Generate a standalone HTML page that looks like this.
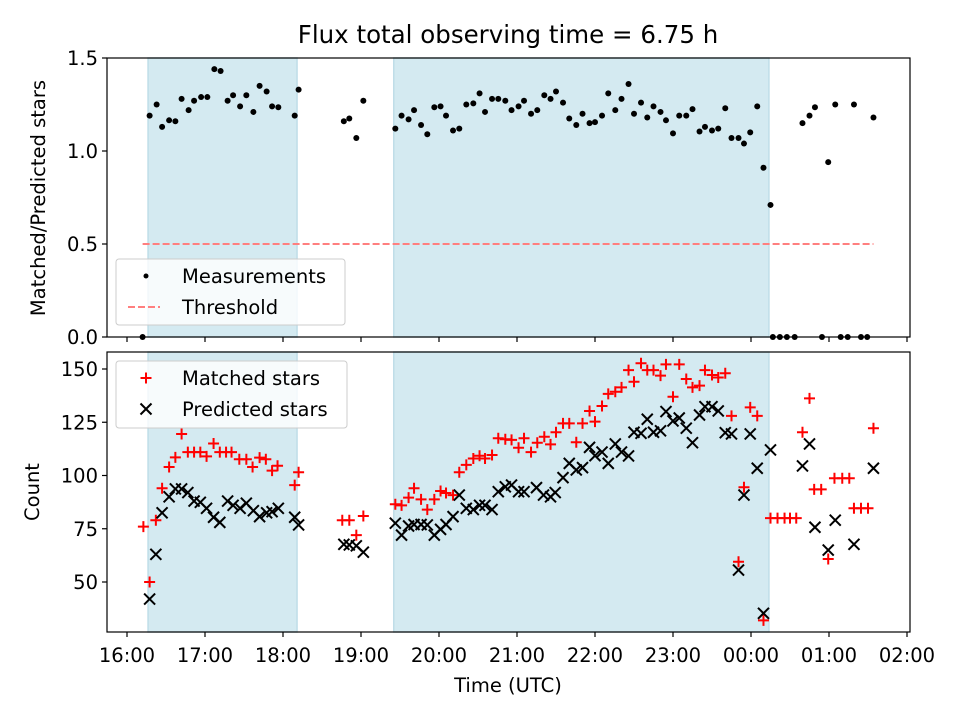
<!DOCTYPE html>
<html><head><meta charset="utf-8"><style>
body{margin:0;background:#fff;}
svg{display:block;font-family:"DejaVu Sans","Liberation Sans",sans-serif;}
</style></head><body>
<svg id="chart" width="960" height="720" viewBox="0 0 960 720"></svg>
<script>
// ---- data (hours after 16:00 UTC) ----
const tickLabels = ["16:00","17:00","18:00","19:00","20:00","21:00","22:00","23:00","00:00","01:00","02:00"];
const topTicks = [0, 0.5, 1.0, 1.5];
const botTicks = [50, 75, 100, 125, 150];
const spans = [[0.27, 2.18], [3.42, 8.23]];
const threshold = 0.5;
const thresholdRange = [0.20, 9.57];

const ratioT = [0.20,0.29,0.38,0.45,0.54,0.62,0.70,0.79,0.86,0.95,1.03,1.12,1.20,1.29,1.36,1.45,1.53,1.62,1.70,1.79,1.86,1.94,2.15,2.20,
 2.78,2.85,2.94,3.03,
 3.44,3.52,3.61,3.68,3.77,3.85,3.94,4.02,4.09,4.18,4.26,4.35,4.44,4.52,4.59,4.68,4.76,4.85,
 4.93,5.02,5.09,5.18,5.26,5.35,5.43,5.50,5.59,5.67,5.76,5.84,5.93,6.00,6.09,6.17,6.26,6.34,6.43,6.50,6.59,6.67,6.75,6.84,6.91,7.00,7.08,7.17,7.25,7.34,7.41,7.50,7.58,7.67,7.75,7.84,7.91,7.99,8.08,8.16,8.25,
 8.28,8.37,8.46,8.56,8.66,8.75,8.82,8.91,8.99,9.08,9.15,9.24,9.32,9.41,9.49,9.57];
const ratioV = [0,1.19,1.25,1.13,1.165,1.16,1.28,1.22,1.27,1.29,1.29,1.44,1.43,1.27,1.30,1.24,1.30,1.21,1.35,1.32,1.24,1.235,1.19,1.33,
 1.16,1.175,1.07,1.27,
 1.12,1.19,1.17,1.22,1.14,1.09,1.235,1.24,1.19,1.11,1.12,1.25,1.256,1.31,1.21,1.28,1.28,1.27,
 1.22,1.24,1.27,1.20,1.22,1.30,1.28,1.32,1.26,1.175,1.14,1.20,1.15,1.155,1.19,1.31,1.22,1.28,1.36,1.20,1.26,1.18,1.24,1.21,1.165,1.095,1.19,1.19,1.225,1.105,1.13,1.11,1.12,1.23,1.07,1.07,1.04,1.10,1.24,0.91,0.71,
 0,0,0,0,1.15,1.19,1.235,0,0.94,1.25,0,0,1.25,0,0,1.18];

const matchedT = [0.21,0.29,0.37,0.45,0.54,0.62,0.70,0.78,0.86,0.94,1.02,1.11,1.19,1.27,1.34,1.44,1.53,1.61,1.70,1.78,1.86,1.93,2.15,2.20,
 2.76,2.85,2.94,3.03,
 3.44,3.52,3.61,3.68,3.77,3.85,3.94,4.02,4.09,4.18,4.26,4.35,4.44,4.52,4.59,4.68,4.76,4.85,
 4.93,5.02,5.09,5.18,5.26,5.35,5.43,5.50,5.59,5.67,5.76,5.84,5.93,6.00,6.09,6.17,6.26,6.34,6.43,6.50,6.59,6.67,6.75,6.84,6.91,7.00,7.08,7.17,7.25,7.34,7.41,7.50,7.58,7.67,7.75,7.84,7.91,7.99,8.08,8.16,
 8.25,8.34,8.43,8.50,8.58,8.66,8.75,8.81,8.90,8.99,9.07,9.17,9.26,9.32,9.41,9.50,9.57];
const matchedV = [76,50,79,94,104,108.5,119.5,111,111,111,109,115,111,111,111,107.6,107.6,104,108.4,107.6,102.3,104.6,95.5,101.5,
 79,79,72,81,
 86.5,86,89.6,94,88.8,84,88.8,92.7,91.8,90.8,101.5,105,108,109.3,108,109.6,117.5,117,
 116.7,113,117.5,111,115.4,118.2,114.6,120.3,124.5,124.5,115.6,124.5,130.3,125.3,132.6,138.3,139.3,141.4,149.5,144,152.7,149.5,149.5,146.9,152.2,137,152.2,145.3,141.4,142.2,149.5,147.2,146,148,128,59.5,94.5,132,128,32,
 80,80,80,80,80,120.3,136.2,93.5,93.5,60.8,98.7,98.7,98.7,84.6,84.6,84.6,122.2];

const predictedT = [0.29,0.37,0.45,0.54,0.62,0.70,0.78,0.86,0.94,1.02,1.11,1.19,1.29,1.36,1.45,1.53,1.62,1.70,1.79,1.86,1.94,2.15,2.20,
 2.78,2.85,2.94,3.03,
 3.44,3.52,3.61,3.68,3.77,3.85,3.94,4.02,4.09,4.18,4.26,4.35,4.44,4.52,4.59,4.68,4.76,4.85,
 4.93,5.02,5.09,5.25,5.34,5.43,5.49,5.59,5.67,5.76,5.84,5.93,6.00,6.09,6.17,6.26,6.34,6.43,6.50,6.59,6.67,6.75,6.84,6.91,7.00,7.08,7.17,7.25,7.34,7.41,7.50,7.58,7.67,7.75,7.84,7.91,7.99,8.08,8.16,8.25,
 8.66,8.75,8.82,8.99,9.08,9.32,9.57];
const predictedV = [42,63,82.5,90,93.7,93.7,92,88,87.4,84.6,80.4,78,88,86,84.6,87,83.5,80.7,82.5,83,84.6,80.4,76.8,
 67.7,67.4,67,64,
 77.6,72,76.3,77,77,76.8,72,74.7,77,80.7,90.8,84.6,84,86,86,84,92.4,94.7,
 95.5,92.4,92.4,94.3,90.8,90,92,99,105.7,102.6,103.7,113.2,109.3,111,105.7,114.8,111,109.2,120.3,119.8,126.4,120.3,121,130,125.6,127,122.2,115.4,128.4,132.3,132.3,130.3,120.1,119.5,55.6,90.8,119.5,103.4,35.3,112,
 104.5,114.8,75.7,65,79,67.7,103.4];

// ---- layout ----
const NS = "http://www.w3.org/2000/svg";
const svg = document.getElementById("chart");
const L = 107, R = 910;
const FS = 19.5;
const TOP = {y0: 58, y1: 337, min: 0, max: 1.5};
const BOT = {y0: 352, y1: 632};
function xs(t){ return 127 + 78 * t; }
function ysTop(v){ return TOP.y1 - (v - TOP.min) / (TOP.max - TOP.min) * (TOP.y1 - TOP.y0); }
function ysBot(v){ return 369 + (150 - v) * 2.13; }
function el(tag, attrs, parent){
  const e = document.createElementNS(NS, tag);
  for (const k in attrs) e.setAttribute(k, attrs[k]);
  (parent || svg).appendChild(e);
  return e;
}

let title = el("text", {x: 508, y: 43, "text-anchor": "middle", "font-size": 24.5, fill: "#000"});
title.textContent = "Flux total observing time = 6.75 h";



function drawPanel(P, name){
  const g = el("g", {});
  
  
  spans.forEach(function(s){
    const r = el("rect", {x: xs(s[0]), y: P.y0, width: xs(s[1]) - xs(s[0]), height: P.y1 - P.y0, fill: "#d4eaf1", stroke: "#bfdde8", "stroke-width": 1.5}, g);
    
    
  });
  return g;
}
const gTop = drawPanel(TOP, "top-panel");
const gBot = drawPanel(BOT, "bottom-panel");

const th = el("line", {x1: xs(thresholdRange[0]), x2: xs(thresholdRange[1]), y1: ysTop(threshold), y2: ysTop(threshold), stroke: "#ff7f7f", "stroke-width": 2, "stroke-dasharray": "7,3"}, gTop);



ratioT.forEach(function(t, i){
  const c = el("circle", {cx: xs(t), cy: ysTop(ratioV[i]), r: 3, fill: "#000"}, gTop);
  
  
});

matchedT.forEach(function(t, i){
  const x = xs(t), y = ysBot(matchedV[i]), s = 5.5;
  const p = el("path", {d: "M"+(x-s)+","+y+"H"+(x+s)+"M"+x+","+(y-s)+"V"+(y+s), stroke: "#ff0000", "stroke-width": 2, fill: "none"}, gBot);
  
  
});
predictedT.forEach(function(t, i){
  const x = xs(t), y = ysBot(predictedV[i]), s = 5.5;
  const p = el("path", {d: "M"+(x-s)+","+(y-s)+"L"+(x+s)+","+(y+s)+"M"+(x-s)+","+(y+s)+"L"+(x+s)+","+(y-s), stroke: "#000", "stroke-width": 2, fill: "none"}, gBot);
  
  
});

[[TOP, ysTop, topTicks, "top"], [BOT, ysBot, botTicks, "bottom"]].forEach(function(a){
  const P = a[0], f = a[1], ticks = a[2], nm = a[3];
  const fr = el("rect", {x: L, y: P.y0, width: R - L, height: P.y1 - P.y0, fill: "none", stroke: "#000", "stroke-width": 1.2});
  
  
  ticks.forEach(function(v){
    const y = f(v);
    el("line", {x1: L - 5, x2: L, y1: y, y2: y, stroke: "#000", "stroke-width": 1.2});
    const tx = el("text", {x: L - 9, y: y + 7, "text-anchor": "end", "font-size": FS});
    tx.textContent = (nm === "top") ? v.toFixed(1) : String(v);
    
    
  });
  tickLabels.forEach(function(lab, i){
    const x = xs(i);
    el("line", {x1: x, x2: x, y1: P.y1, y2: P.y1 + 5, stroke: "#000", "stroke-width": 1.2});
    if (nm === "bottom"){
      const tx = el("text", {x: x, y: P.y1 + 30, "text-anchor": "middle", "font-size": FS});
      tx.textContent = lab;
      
      
    }
  });
});

let xl = el("text", {x: 508, y: 692, "text-anchor": "middle", "font-size": FS});
xl.textContent = "Time (UTC)";


let yl1 = el("text", {x: 0, y: 0, "text-anchor": "middle", "font-size": FS, transform: "translate(45,198) rotate(-90)"});
yl1.textContent = "Matched/Predicted stars";


let yl2 = el("text", {x: 0, y: 0, "text-anchor": "middle", "font-size": FS, transform: "translate(39,492) rotate(-90)"});
yl2.textContent = "Count";



function legend(x, y, w, h, items, name){
  const g = el("g", {});
  
  
  el("rect", {x: x, y: y, width: w, height: h, rx: 3, fill: "#ffffff", "fill-opacity": 0.8, stroke: "#cccccc"}, g);
  items.forEach(function(it, i){
    const cy = y + 17 + i * 31, mx = x + 30;
    if (it[0] === "dot") el("circle", {cx: mx, cy: cy, r: 2.5, fill: "#000"}, g);
    if (it[0] === "dash") el("line", {x1: mx - 18, x2: mx + 14, y1: cy, y2: cy, stroke: "#ff7f7f", "stroke-width": 2, "stroke-dasharray": "7,3"}, g);
    if (it[0] === "plus") el("path", {d: "M"+(mx-5.5)+","+cy+"H"+(mx+5.5)+"M"+mx+","+(cy-5.5)+"V"+(cy+5.5), stroke: "#f00", "stroke-width": 2}, g);
    if (it[0] === "cross") el("path", {d: "M"+(mx-5.5)+","+(cy-5.5)+"L"+(mx+5.5)+","+(cy+5.5)+"M"+(mx-5.5)+","+(cy+5.5)+"L"+(mx+5.5)+","+(cy-5.5), stroke: "#000", "stroke-width": 2}, g);
    const t = el("text", {x: x + 66, y: cy + 7, "font-size": FS}, g);
    t.textContent = it[1];
    
    
  });
}
legend(116, 259, 229, 66, [["dot","Measurements"],["dash","Threshold"]], "top-legend");
legend(116, 361, 231, 67, [["plus","Matched stars"],["cross","Predicted stars"]], "bottom-legend");
</script>
</body></html>
